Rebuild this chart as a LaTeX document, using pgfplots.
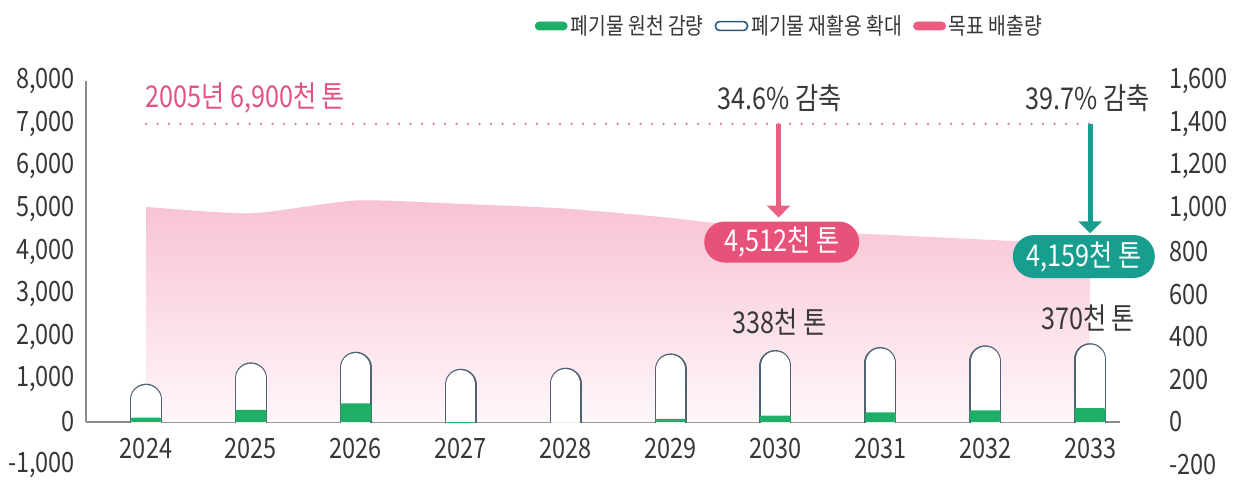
\documentclass[border=0pt]{standalone}
\usepackage{pgfplots}
\pgfplotsset{compat=1.18}
\usetikzlibrary{arrows.meta}
\usepackage{fontspec}
\setmainfont{Noto Sans CJK KR}[FakeStretch=0.84]

\definecolor{labgray}{RGB}{55,55,55}
\definecolor{axisgray}{RGB}{140,140,140}
\definecolor{areatop}{RGB}{248,194,210}
\definecolor{areabot}{RGB}{255,247,250}
\definecolor{pinkdot}{RGB}{232,120,155}
\definecolor{pinktxt}{RGB}{224,84,127}
\definecolor{pinkbox}{RGB}{232,82,122}
\definecolor{pinkarrow}{RGB}{233,96,132}
\definecolor{tealc}{RGB}{24,158,142}
\definecolor{gbar}{RGB}{30,174,104}
\definecolor{outline}{RGB}{78,98,114}
\definecolor{legpink}{RGB}{236,90,128}
\definecolor{legout}{RGB}{40,90,130}

\pgfplotsset{
  common/.style={
    scale only axis, width=517pt, height=191.7pt,
    xmin=-0.572, xmax=9.285,
    /pgf/number format/assume math mode=true,
    ticklabel style={font=\fontsize{14}{16}\selectfont, text=labgray},
    major tick length=0pt,
  }
}

\begin{document}
\begin{tikzpicture}
\useasboundingbox (-43pt,-8.7pt) rectangle (577pt,232.3pt);

% ---------- main (left) axis ----------
\begin{axis}[common, at={(0,0)}, anchor=south west,
  ymin=-1000, ymax=8000, ytick={-1000,0,1000,2000,3000,4000,5000,6000,7000,8000},
  axis x line=middle, axis y line=left,
  x axis line style={draw=axisgray, line width=0.75pt, -},
  y axis line style={draw=none},
  xtick={0,1,2,3,4,5,6,7,8,9},
  xticklabels={2024,2025,2026,2027,2028,2029,2030,2031,2032,2033},
  xticklabel style={yshift=-4.5pt},
  yticklabel style={xshift=-2pt},
  clip=false]

\addplot[draw=none, top color=areatop, bottom color=areabot, smooth, tension=0.4]
  coordinates {(0,5050) (1,4900) (2,5200) (3,5120) (4,5010) (5,4790) (6,4512) (7,4400) (8,4280) (9,4159)} \closedcycle;

\addplot[pinkdot, line width=1.3pt, line cap=round, dash pattern=on 0pt off 5.75pt]
  coordinates {(0,7000) (9,7000)};

\draw[axisgray, line width=0.75pt] (axis cs:-0.572,0) -- (axis cs:-0.572,8000);

\node[anchor=west, text=pinktxt, font=\fontsize{15}{17}\selectfont, inner sep=0pt] at (axis cs:-0.01,7606) {2005년 6,900천 톤};

\node[text=labgray, font=\fontsize{15}{17}\selectfont, inner sep=0pt] at (axis cs:6.04,7606) {34.6\% 감축};
\node[text=labgray, font=\fontsize{15}{17}\selectfont, inner sep=0pt] at (axis cs:8.98,7606) {39.7\% 감축};

\draw[pinkarrow, line width=2.5pt, -{Triangle[width=11.5pt,length=6pt]}] (axis cs:6.03,7000) -- (axis cs:6.03,4800);
\draw[tealc, line width=2.5pt, -{Triangle[width=11.5pt,length=6pt]}] (axis cs:9.0,7000) -- (axis cs:9.0,4430);

\node[fill=pinkbox, rounded corners=10.2pt, minimum width=77.5pt, minimum height=20.5pt, text=white, font=\fontsize{15}{17}\selectfont, inner sep=0pt] at (axis cs:6.06,4225) {4,512천 톤};
\node[fill=tealc, rounded corners=10.7pt, minimum width=71pt, minimum height=21.5pt, text=white, font=\fontsize{15}{17}\selectfont, inner sep=0pt] at (axis cs:8.94,3885) {4,159천 톤};

\node[text=labgray, font=\fontsize{15}{17}\selectfont, inner sep=0pt] at (axis cs:6.04,2347) {338천 톤};
\node[text=labgray, font=\fontsize{15}{17}\selectfont, inner sep=0pt] at (axis cs:8.98,2441) {370천 톤};
\end{axis}

% ---------- capsule outlines (recycling), right-axis scale ----------
\begin{axis}[common, at={(0,21.3pt)}, anchor=south west, height=170.4pt,
  ymin=75.1, ymax=1675.1, hide axis, clip=true]
\addplot[ycomb, draw=outline, line width=16pt, line cap=round, mark=none]
  coordinates {(0,180) (1,280) (2,330) (3,250) (4,255) (5,322) (6,338) (7,352) (8,360) (9,370)};
\addplot[ycomb, draw=white, line width=14.6pt, line cap=round, mark=none]
  coordinates {(0,180) (1,280) (2,330) (3,250) (4,255) (5,322) (6,338) (7,352) (8,360) (9,370)};
\end{axis}

% ---------- right axis: source reduction ----------
\begin{axis}[common, at={(0,0)}, anchor=south west,
  ymin=-200, ymax=1600, ytick={-200,0,200,400,600,800,1000,1200,1400,1600},
  axis y line*=right, axis x line=none,
  y axis line style={draw=none},
  yticklabel style={anchor=west, xshift=21pt},
  legend columns=3, legend cell align=left,
  legend style={at={(0.928,1.144)}, anchor=east, draw=none, fill=none,
    font=\fontsize{11.5}{13}\selectfont, text=labgray, inner sep=0pt,
    nodes={inner sep=1.5pt},
    /tikz/every even column/.append style={column sep=4pt}}]
\addplot[ybar, bar width=15.5pt, fill=gbar, draw=none, rounded corners=1pt, forget plot]
  coordinates {(0,20) (1,57) (2,88) (3,-5) (4,0) (5,15) (6,30) (7,45) (8,55) (9,65)};
\addlegendimage{legend image code/.code={\fill[gbar, rounded corners=2pt] (0pt,-2pt) rectangle (16pt,2pt);}}
\addlegendentry{폐기물 원천 감량}
\addlegendimage{legend image code/.code={\draw[legout, line width=0.8pt, rounded corners=2pt] (0pt,-2.2pt) rectangle (16pt,2.2pt);}}
\addlegendentry{폐기물 재활용 확대}
\addlegendimage{legend image code/.code={\fill[legpink, rounded corners=2pt] (0pt,-2pt) rectangle (16pt,2pt);}}
\addlegendentry{목표 배출량}
\end{axis}
\end{tikzpicture}
\end{document}
